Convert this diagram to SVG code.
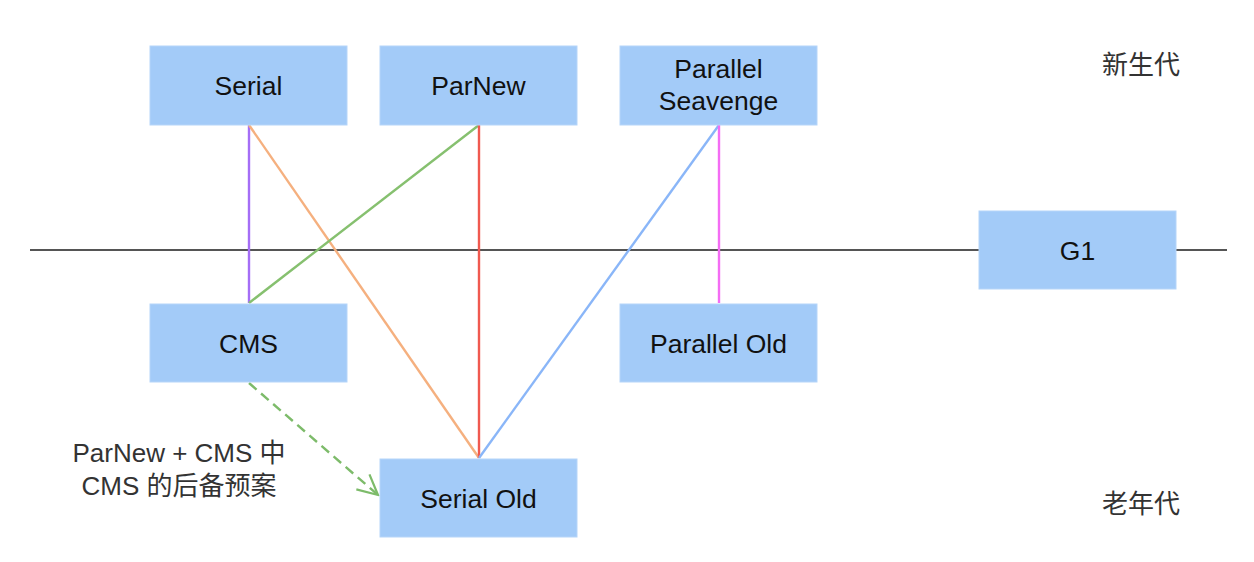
<svg xmlns="http://www.w3.org/2000/svg" width="1254" height="562" viewBox="0 0 1254 562">
<defs>
<style>
.box{fill:#a3cbf8;stroke:#b6d5f9;stroke-width:1}
.t{font-family:"Liberation Sans",Arial,sans-serif;font-size:26.5px;fill:#111;text-anchor:middle}
.lbl{font-family:"Liberation Sans","Noto Sans CJK SC",sans-serif;font-size:26px;fill:#333;text-anchor:middle}
.c{fill:none;stroke-width:2.4}
</style>
<marker id="arr" viewBox="0 0 24 24" refX="22" refY="12" markerWidth="24" markerHeight="24" markerUnits="userSpaceOnUse" orient="auto">
<path d="M2,2 L22,12 L2,22" fill="none" stroke="#7dbb6a" stroke-width="2.2"/>
</marker>
</defs>
<rect width="1254" height="562" fill="#fff"/>
<g id="divider">
<line x1="30" y1="250" x2="1227" y2="250" stroke="#555" stroke-width="2"/>
</g>
<g id="connectors">
<line class="c" x1="249" y1="125" x2="249" y2="303" stroke="#a56ef6"/>
<line class="c" x1="249" y1="125" x2="479" y2="458" stroke="#f5b07f"/>
<line class="c" x1="479" y1="125" x2="249" y2="303" stroke="#86c06f"/>
<line class="c" x1="479" y1="125" x2="479" y2="458" stroke="#f0594f"/>
<line class="c" x1="719" y1="125" x2="479" y2="458" stroke="#8ab6f8"/>
<line class="c" x1="719" y1="125" x2="719" y2="303" stroke="#f46cf4"/>
<path class="c" d="M249,383 L378,495" stroke="#7dbb6a" stroke-dasharray="10,6" marker-end="url(#arr)"/>
</g>
<g id="serial"><rect class="box" x="150" y="46" width="197" height="79"/><text class="t" x="248.5" y="94.5">Serial</text></g>
<g id="parnew"><rect class="box" x="380" y="46" width="197" height="79"/><text class="t" x="478.5" y="94.5">ParNew</text></g>
<g id="parallel-seavenge"><rect class="box" x="620" y="46" width="197" height="79"/><text class="t" x="718.5" y="78">Parallel</text><text class="t" x="718.5" y="110">Seavenge</text></g>
<g id="cms"><rect class="box" x="150" y="304" width="197" height="78"/><text class="t" x="248.5" y="352.5">CMS</text></g>
<g id="parallel-old"><rect class="box" x="620" y="304" width="197" height="78"/><text class="t" x="718.5" y="352.5">Parallel Old</text></g>
<g id="serial-old"><rect class="box" x="380" y="459" width="197" height="78"/><text class="t" x="478.5" y="507.5">Serial Old</text></g>
<g id="g1"><rect class="box" x="979" y="211" width="197" height="78"/><text class="t" x="1077.5" y="259.5">G1</text></g>
<g id="labels">
<text class="lbl" x="179" y="462">ParNew + CMS 中</text>
<text class="lbl" x="179" y="495">CMS 的后备预案</text>
<text class="lbl" x="1141" y="74">新生代</text>
<text class="lbl" x="1141" y="513">老年代</text>
</g>
</svg>
